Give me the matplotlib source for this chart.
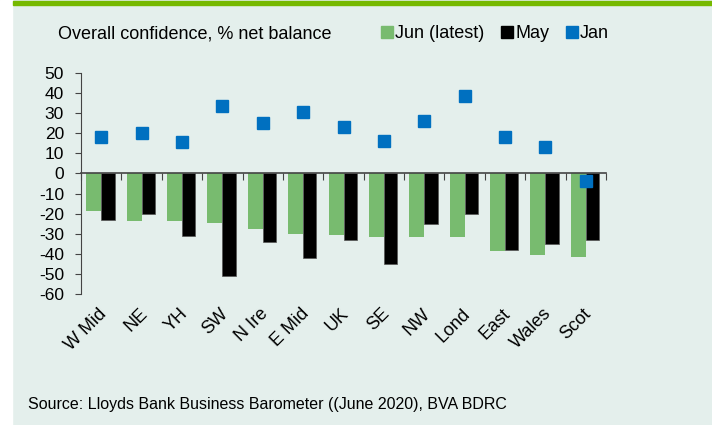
import numpy as np
import matplotlib.pyplot as plt
from matplotlib.patches import Rectangle
from matplotlib.lines import Line2D
from matplotlib.transforms import ScaledTranslation

plt.rcParams['font.family'] = ['Liberation Sans', 'DejaVu Sans']
plt.rcParams['axes.unicode_minus'] = False

# Datos
regiones = ["W Mid", "NE", "YH", "SW", "N Ire", "E Mid", "UK",
            "SE", "NW", "Lond", "East", "Wales", "Scot"]
jun = [-18.7, -23.9, -23.9, -24.7, -27.7, -29.9, -30.8,
       -31.6, -31.6, -31.5, -38.7, -40.7, -41.7]
may = [-23.2, -20.2, -31.2, -51, -34.2, -42.1, -33.2,
       -45.2, -25, -20, -38.2, -35, -33.2]
jan = [17.9, 19.9, 15.9, 33.8, 24.9, 30.8, 22.9,
       16, 26, 38.4, 18, 13, -4]

fondo = "#E4EFEC"
verde = "#78BB6F"
azul = "#0070C0"

fig = plt.figure(figsize=(7.12, 4.25), dpi=100, facecolor=fondo)

# franja blanca izquierda y banda verde superior
fig.patches.append(Rectangle((0, 0), 12 / 712, 1, transform=fig.transFigure,
                             color="white", zorder=0))
fig.patches.append(Rectangle((13 / 712, 1 - 5 / 425), 1, 4 / 425,
                             transform=fig.transFigure, color="#76B900", zorder=1))

ax = fig.add_axes([81 / 712, 1 - 294 / 425, 525 / 712, 221 / 425])
ax.set_facecolor(fondo)

x = np.arange(len(regiones))
ax.bar(x - 0.185, jun, width=0.37, color=verde, zorder=2)
ax.bar(x + 0.165, may, width=0.33, color="black", edgecolor="#555555",
       linewidth=0.5, zorder=2)
ax.plot(x, jan, ls="none", marker="s", markersize=8, color=azul, zorder=3)

ax.set_xlim(-0.5, len(regiones) - 0.5)
ax.set_ylim(-60, 50)
ax.set_yticks(np.arange(-60, 51, 10))
ax.tick_params(axis="y", labelsize=12.5, length=4.3, color="#444444", pad=8)

for s in ["top", "right"]:
    ax.spines[s].set_visible(False)
ax.spines["left"].set_color("#444444")
ax.spines["bottom"].set_position(("data", 0))
ax.spines["bottom"].set_color("#444444")
ax.spines["bottom"].set_linewidth(1.2)
ax.set_xticks(np.arange(-0.5, len(regiones) + 0.5, 1))
ax.set_xticklabels([])
ax.tick_params(axis="x", length=5, color="#444444")

# etiquetas de categoria en la parte baja
sec = ax.secondary_xaxis("bottom")
sec.set_xticks(x)
sec.set_xticklabels(regiones, rotation=45, ha="right", rotation_mode="anchor",
                    fontsize=13)
sec.tick_params(length=0, pad=8)
sec.spines["bottom"].set_visible(False)
desplaza = ScaledTranslation(-3 / 100, 0, fig.dpi_scale_trans)
for lab in sec.get_xticklabels():
    lab.set_transform(lab.get_transform() + desplaza)

fig.text(58 / 712, 1 - 34 / 425, "Overall confidence, % net balance",
         fontsize=13, va="center", ha="left")

handles = [Line2D([], [], ls="none", marker="s", markersize=8, color=c)
           for c in [verde, "black", azul]]
fig.legend(handles, ["Jun (latest)", "May", "Jan"], ncol=3, frameon=False,
           loc="center left", bbox_to_anchor=(380 / 712, 1 - 34 / 425),
           fontsize=13, handlelength=0.8, handletextpad=0.05,
           columnspacing=0.85, borderpad=0, borderaxespad=0)

fig.text(28 / 712, 1 - 405 / 425,
         "Source: Lloyds Bank Business Barometer ((June 2020), BVA BDRC",
         fontsize=11.5, va="center", ha="left")

fig.savefig("out.png", dpi=100, facecolor=fondo)
